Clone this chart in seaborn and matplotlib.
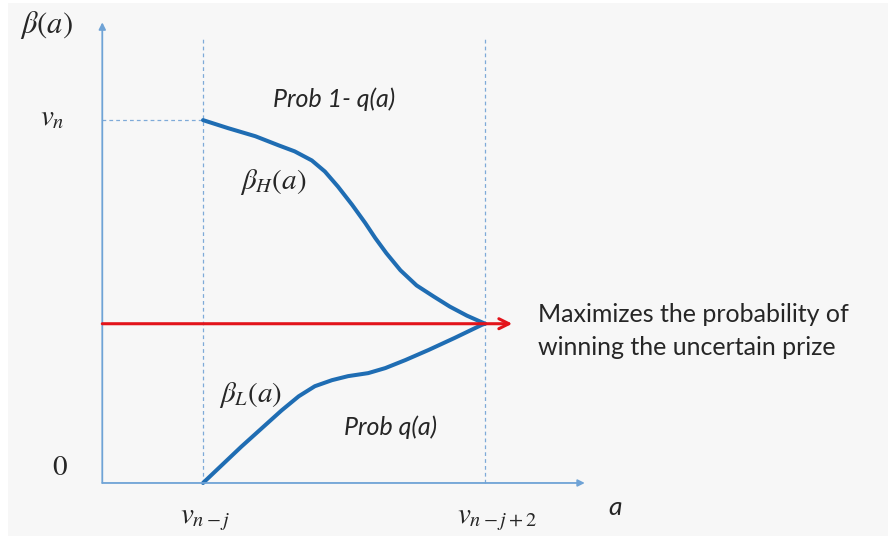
import numpy as np
import pandas as pd
import seaborn as sns
import matplotlib.pyplot as plt

# axis values (abstract units)
v_nj = 1.0       # v_{n-j}
v_nj2 = 3.8      # v_{n-j+2}
v_n = 3.6        # v_n
meet = 1.58      # level where both bids meet

# beta_H(a)
high_x = [1.00, 1.25, 1.52, 1.75, 1.91, 2.08, 2.21, 2.34, 2.48, 2.61, 2.71,
          2.82, 2.96, 3.12, 3.29, 3.45, 3.62, 3.80]
high_y = [3.60, 3.52, 3.44, 3.35, 3.29, 3.20, 3.09, 2.94, 2.76, 2.58, 2.43,
          2.28, 2.11, 1.96, 1.85, 1.75, 1.66, 1.58]

# beta_L(a)
low_x = [1.00, 1.19, 1.38, 1.58, 1.78, 1.95, 2.11, 2.28, 2.44, 2.64, 2.81,
         3.01, 3.24, 3.50, 3.77, 3.80]
low_y = [0.00, 0.18, 0.36, 0.54, 0.72, 0.86, 0.96, 1.02, 1.06, 1.09, 1.14,
         1.22, 1.32, 1.44, 1.57, 1.58]

df_high = pd.DataFrame({"a": high_x, "beta": high_y})
df_low = pd.DataFrame({"a": low_x, "beta": low_y})

sns.set_theme(style="white")
plt.rcParams["mathtext.fontset"] = "stix"
plt.rcParams["font.family"] = ["Lato", "DejaVu Sans"]

fig = plt.figure(figsize=(8.91, 5.38), dpi=100)
fig.patch.set_facecolor("white")
ax = fig.add_axes([8 / 891, 2 / 538, 880 / 891, 533 / 538])
ax.set_facecolor("#f7f7f7")
ax.set_xlim(-0.936, 7.80)
ax.set_ylim(-0.526, 4.762)
ax.set_xticks([])
ax.set_yticks([])
for s in ax.spines.values():
    s.set_visible(False)

axis_col = "#6fa3d6"
dash_col = "#7eaad8"
blue = "#1f6db3"
red = "#e3141b"

# axes arrows
ax.annotate("", xy=(0, 4.57), xytext=(0, 0),
            arrowprops=dict(arrowstyle="-|>", color=axis_col, lw=1.3,
                            mutation_scale=10, shrinkA=0, shrinkB=0))
ax.annotate("", xy=(4.79, 0), xytext=(0, 0),
            arrowprops=dict(arrowstyle="-|>", color=axis_col, lw=1.3,
                            mutation_scale=10, shrinkA=0, shrinkB=0))

# guide lines
ax.plot([v_nj, v_nj], [0, 4.41], color=dash_col, lw=0.9, ls=(0, (3, 2.5)))
ax.plot([v_nj2, v_nj2], [0, 4.41], color=dash_col, lw=0.9, ls=(0, (3, 2.5)))
ax.plot([0, v_nj], [v_n, v_n], color=dash_col, lw=0.9, ls=(0, (3, 2.5)))

# red arrow
ax.annotate("", xy=(4.07, meet), xytext=(0, meet),
            arrowprops=dict(arrowstyle="->", color=red, lw=2.2,
                            mutation_scale=18, shrinkA=0, shrinkB=0))

# bid curves
sns.lineplot(data=df_high, x="a", y="beta", sort=False, color=blue, lw=2.9,
             solid_joinstyle="round", solid_capstyle="round", ax=ax)
sns.lineplot(data=df_low, x="a", y="beta", sort=False, color=blue, lw=2.9,
             solid_joinstyle="round", solid_capstyle="round", ax=ax)
ax.set_xlabel("")
ax.set_ylabel("")

mfs = 21
ax.text(-0.55, 4.54, r"$\beta(a)$", fontsize=22, ha="center", va="center")
ax.text(-0.50, 3.62, r"$v_n$", fontsize=mfs, ha="center", va="center")
ax.text(-0.42, 0.16, r"$0$", fontsize=mfs, ha="center", va="center")
ax.text(v_nj + 0.02, -0.37, r"$v_{n-j}$", fontsize=mfs, ha="center", va="center")
ax.text(v_nj2 + 0.12, -0.37, r"$v_{n-j+2}$", fontsize=mfs, ha="center", va="center")
ax.text(1.70, 2.99, r"$\beta_H(a)$", fontsize=mfs, ha="center", va="center")
ax.text(1.47, 0.87, r"$\beta_L(a)$", fontsize=mfs, ha="center", va="center")

ax.text(2.30, 3.81, "Prob 1- q(a)", fontsize=18, style="italic",
        ha="center", va="center")
ax.text(2.86, 0.55, "Prob q(a)", fontsize=18, style="italic",
        ha="center", va="center")
ax.text(5.09, -0.24, "a", fontsize=19, style="italic", ha="center", va="center")
ax.text(4.33, 1.51, "Maximizes the probability of\nwinning the uncertain prize",
        fontsize=18, ha="left", va="center", linespacing=1.5)

fig.savefig("out.png", dpi=100, facecolor="white")
